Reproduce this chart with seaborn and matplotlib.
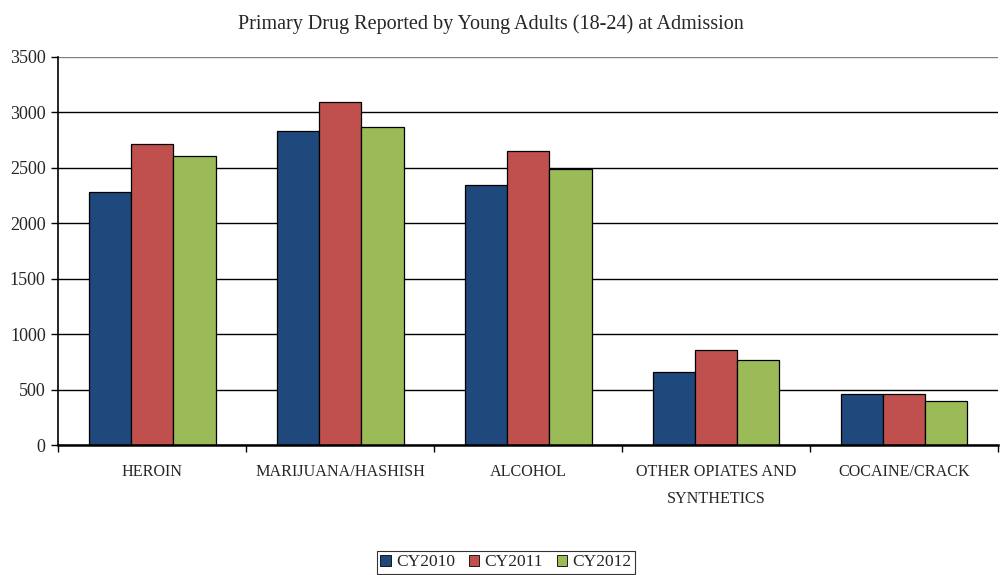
import pandas as pd
import numpy as np
import matplotlib.pyplot as plt
import seaborn as sns
from matplotlib.ticker import FixedLocator
from matplotlib.patches import Patch

# dados
categorias = ["HEROIN", "MARIJUANA/HASHISH", "ALCOHOL",
              "OTHER OPIATES AND\nSYNTHETICS", "COCAINE/CRACK"]
anos = ["CY2010", "CY2011", "CY2012"]
cy2010 = [2280, 2833, 2343, 655, 460]
cy2011 = [2713, 3098, 2650, 856, 460]
cy2012 = [2611, 2866, 2485, 766, 399]

cores = ["#1F497D", "#C0504D", "#9BBB59"]

df = pd.DataFrame({
    "Droga": categorias * 3,
    "Ano": [a for a in anos for _ in categorias],
    "Valor": cy2010 + cy2011 + cy2012,
})

sns.set_style("white")
plt.rcParams["font.family"] = ["Liberation Serif", "DejaVu Serif"]

fig = plt.figure(figsize=(10.04, 5.75), dpi=100)
ax = fig.add_axes([0.058, 0.226, 0.936, 0.675])

sns.barplot(data=df, x="Droga", y="Valor", hue="Ano", palette=cores, saturation=1,
            width=0.675, edgecolor="black", linewidth=0.9, ax=ax, legend=False)

ax.set_ylim(0, 3500)
ax.set_xlim(-0.5, 4.5)
ax.set_yticks(np.arange(0, 3501, 500))
ax.yaxis.grid(True, color="black", linewidth=1.0)
ax.set_axisbelow(True)
ax.get_ygridlines()[-1].set_color("#808080")

for lado in ["top", "right"]:
    ax.spines[lado].set_visible(False)
ax.spines["left"].set_color("black")
ax.spines["left"].set_linewidth(1.2)
ax.spines["bottom"].set_color("black")
ax.spines["bottom"].set_linewidth(1.8)

ax.tick_params(axis="y", length=5, width=1, color="black", labelsize=13, pad=4, left=True)
ax.tick_params(axis="x", which="major", length=0, labelsize=11.6, pad=14)
ax.xaxis.set_minor_locator(FixedLocator(np.arange(-0.5, 4.6, 1.0)))
ax.tick_params(axis="x", which="minor", length=5, width=1, color="black", bottom=True)
for t in ax.get_xticklabels():
    t.set_linespacing(1.9)
    t.set_verticalalignment("top")

ax.set_xlabel("")
ax.set_ylabel("")
fig.suptitle("Primary Drug Reported by Young Adults (18-24) at Admission",
             fontsize=14.5, x=0.489, y=0.975)

handles = [Patch(facecolor=c, edgecolor="black", linewidth=0.6) for c in cores]
leg = fig.legend(handles, anos, loc="center", bbox_to_anchor=(0.504, 0.022), ncol=3,
                 frameon=True, fancybox=False, edgecolor="black", fontsize=12.5,
                 handlelength=0.6, handleheight=0.6, handletextpad=0.3,
                 columnspacing=0.8, borderpad=0.2)
leg.get_frame().set_linewidth(0.8)

fig.savefig("out.png", dpi=100)
